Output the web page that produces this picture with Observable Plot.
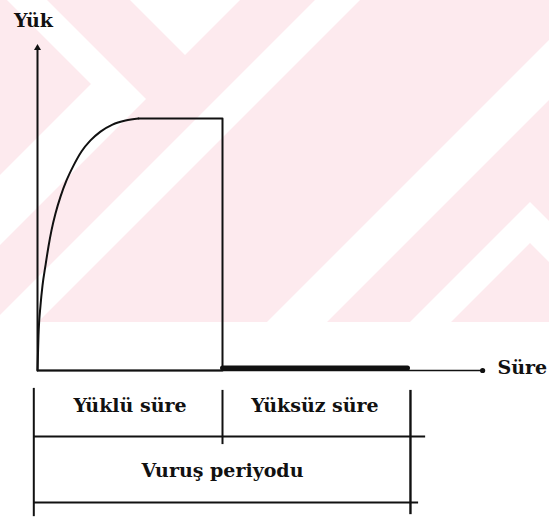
<!DOCTYPE html>
<html>
<head>
<meta charset="utf-8">
<script src="https://cdn.jsdelivr.net/npm/d3@7"></script>
<script src="https://cdn.jsdelivr.net/npm/@observablehq/plot@0.6"></script>
<style>
  html, body { margin: 0; padding: 0; background: #fff; }
  #wrap { position: relative; width: 549px; height: 519px; overflow: hidden; }
  #wrap > svg { position: absolute; left: 0; top: 0; }
</style>
</head>
<body>
<div id="wrap"></div>
<script>
// Load build-up during one working stroke
const riseTime = [0, 0.027, 0.081, 0.135, 0.216, 0.297, 0.378, 0.486, 0.622, 0.784, 0.973, 1.189, 1.432, 1.703, 2.027, 2.378, 2.73];
const riseValue = [0, 0.139, 0.258, 0.337, 0.417, 0.492, 0.556, 0.623, 0.69, 0.754, 0.813, 0.869, 0.913, 0.948, 0.976, 0.992, 1];

// Full load held, then released at the end of the loaded time
const holdTime = [2.73, 5, 5, 0];
const holdValue = [1, 1, 0, 0];

// Idle (no-load) part of the period
const idleTime = [5, 10];
const idleValue = [0.01, 0.01];

// Axis extents and labels
const xAxisEnd = 12.03;
const yAxisEnd = 1.28;
const xLabel = "Süre";
const yLabel = "Yük";

// Time table under the plot
const segmentNames = ["Yüklü süre", "Yüksüz süre"];
const segmentStart = [0, 5];
const segmentEnd = [5, 10];
const periodName = "Vuruş periyodu";
const periodStart = -0.1;
const periodEnd = 10.08;

// Table rows (in load units below the time axis)
const rowTop = -0.071;
const rowMid = -0.262;
const rowBottom = -0.524;
const rowFoot = -0.58;

const rise = riseTime.map((t, i) => ({t, v: riseValue[i]}));
const hold = holdTime.map((t, i) => ({t, v: holdValue[i]}));
const idle = idleTime.map((t, i) => ({t, v: idleValue[i]}));
const segments = segmentNames.map((name, i) => ({name, mid: (segmentStart[i] + segmentEnd[i]) / 2}));

const font = "'DejaVu Serif', serif";

// Faint pink stripe backdrop of the page
const W = 549, H = 322;
const bands = [
  [[7,0],[47,0],[146,99],[0,245],[0,175],[91,84]],
  [[130,0],[185,55],[240,0]],
  [[315,0],[360,0],[38,322],[-7,322]],
  [[549,40],[549,100],[327,322],[267,322]],
  [[410,322],[530,202],[549,221],[549,262],[530,243],[451,322]]
];
const bg = d3.create("svg").attr("width", W).attr("height", H);
bg.append("rect").attr("width", W).attr("height", H).attr("fill", "#fdeaee");
bg.selectAll("polygon").data(bands).join("polygon")
  .attr("points", d => d.map(p => p.join(",")).join(" "))
  .attr("fill", "#fff");
document.getElementById("wrap").append(bg.node());

const ink = "#111";
const chart = Plot.plot({
  width: 549,
  height: 519,
  margin: 0,
  x: {domain: [0, 10], range: [37, 407], axis: null},
  y: {domain: [0, 1], range: [370, 118], axis: null},
  style: {background: "transparent", overflow: "visible", fontFamily: font},
  marks: [
    // axes
    Plot.ruleX([0], {y1: 0, y2: yAxisEnd, stroke: ink, strokeWidth: 2}),
    Plot.ruleY([0], {x1: 0, x2: xAxisEnd, stroke: ink, strokeWidth: 1.6}),
    Plot.dot([{t: 0, v: yAxisEnd}], {x: "t", y: "v", r: 2.6, symbol: "triangle", fill: ink, stroke: null}),
    Plot.dot([{t: xAxisEnd, v: 0}], {x: "t", y: "v", r: 2.6, fill: ink, stroke: null}),
    // load curve and idle segment
    Plot.line(rise, {x: "t", y: "v", stroke: ink, strokeWidth: 2, curve: "monotone-x"}),
    Plot.line(hold, {x: "t", y: "v", stroke: ink, strokeWidth: 2}),
    Plot.line(idle, {x: "t", y: "v", stroke: ink, strokeWidth: 5}),
    // axis labels
    Plot.text([yLabel], {x: -0.108, y: 1.387, text: d => d, fontSize: 19, fontWeight: "bold", fill: ink}),
    Plot.text([xLabel], {x: xAxisEnd + 0.4, y: 0.012, text: d => d, textAnchor: "start", fontSize: 19, fontWeight: "bold", fill: ink}),
    // table
    Plot.ruleX([periodStart], {y1: rowTop, y2: rowFoot, stroke: ink, strokeWidth: 2}),
    Plot.ruleX([segmentEnd[0]], {y1: rowTop - 0.008, y2: rowMid - 0.032, stroke: ink, strokeWidth: 2}),
    Plot.ruleX([periodEnd], {y1: rowTop - 0.008, y2: rowFoot + 0.008, stroke: ink, strokeWidth: 2.4}),
    Plot.ruleY([rowMid], {x1: periodStart, x2: 10.49, stroke: ink, strokeWidth: 2}),
    Plot.ruleY([rowBottom], {x1: periodStart, x2: 10.3, stroke: ink, strokeWidth: 2}),
    Plot.text(segments, {x: "mid", y: -0.139, text: "name", fontSize: 19, fontWeight: "bold", fill: ink}),
    Plot.text([periodName], {x: (segmentStart[0] + segmentEnd[1]) / 2, y: -0.40, text: d => d, fontSize: 19, fontWeight: "bold", fill: ink})
  ]
});
document.getElementById("wrap").append(chart);
</script>
</body>
</html>
